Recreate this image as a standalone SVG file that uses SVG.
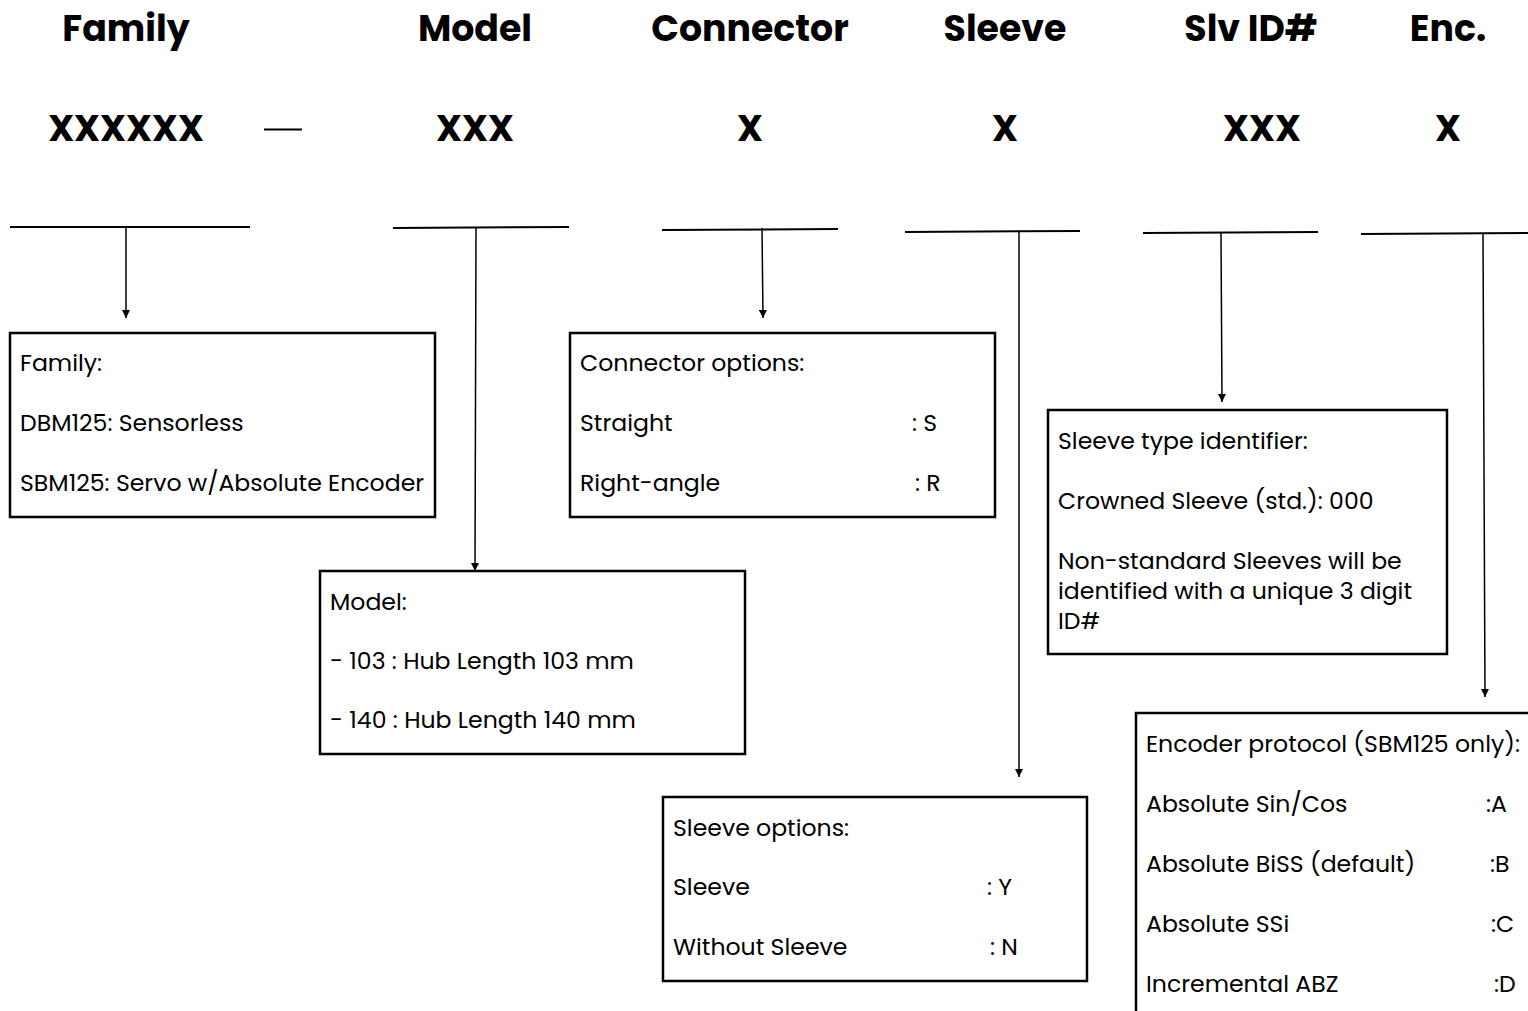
<svg xmlns="http://www.w3.org/2000/svg" width="1528" height="1011" viewBox="0 0 1528 1011">
<defs>
<marker id="arr" viewBox="0 0 10 10" refX="10" refY="5" markerWidth="8" markerHeight="8" markerUnits="userSpaceOnUse" orient="auto">
<path d="M0,0 L10,5 L0,10 z" fill="#000"/>
</marker>
<style>
.h{font-family:"Poppins","Open Sans","Liberation Sans",sans-serif;font-weight:700;font-size:36.3px;fill:#000;text-anchor:middle}
.x{font-family:"Poppins","Open Sans","Liberation Sans",sans-serif;font-weight:700;font-size:36.3px;fill:#000;text-anchor:middle}
.t{font-family:"Poppins","Open Sans","Liberation Sans",sans-serif;font-size:23.6px;fill:#000}
.box{fill:#fff;stroke:#000;stroke-width:2.5}
.br{stroke:#000;stroke-width:2;fill:none}
.v{stroke:#000;stroke-width:1.5;fill:none}
</style>
</defs>
<rect width="1528" height="1011" fill="#fff"/>
<g id="headers">
<text class="h" x="126" y="41">Family</text>
<text class="h" x="475" y="41">Model</text>
<text class="h" x="750" y="41">Connector</text>
<text class="h" x="1005" y="41">Sleeve</text>
<text class="h" x="1251" y="41">Slv ID#</text>
<text class="h" x="1448" y="41">Enc.</text>
<text class="x" x="126" y="141">XXXXXX</text>
<text class="x" x="475" y="141">XXX</text>
<text class="x" x="750" y="141">X</text>
<text class="x" x="1005" y="141">X</text>
<text class="x" x="1262" y="141">XXX</text>
<text class="x" x="1448" y="141">X</text>
<line class="br" x1="264" y1="129.5" x2="302" y2="129.5"/>
</g>
<g id="connectors">
<line class="br" x1="10" y1="227" x2="250" y2="227"/>
<line class="v" x1="126" y1="227" x2="126" y2="318" marker-end="url(#arr)"/>
<line class="br" x1="393" y1="228" x2="569" y2="227"/>
<line class="v" x1="476" y1="228" x2="475" y2="571" marker-end="url(#arr)"/>
<line class="br" x1="662" y1="230" x2="838" y2="229"/>
<line class="v" x1="762" y1="228" x2="763" y2="318" marker-end="url(#arr)"/>
<line class="br" x1="905" y1="232" x2="1080" y2="231"/>
<line class="v" x1="1019" y1="232" x2="1019" y2="777" marker-end="url(#arr)"/>
<line class="br" x1="1143" y1="233" x2="1318" y2="232"/>
<line class="v" x1="1221" y1="233" x2="1222" y2="402" marker-end="url(#arr)"/>
<line class="br" x1="1361" y1="234" x2="1528" y2="233"/>
<line class="v" x1="1483" y1="234" x2="1485" y2="697" marker-end="url(#arr)"/>
</g>
<g id="family">
<rect class="box" x="10" y="333" width="425" height="184"/>
<text class="t" x="20" y="371">Family:</text>
<text class="t" x="20" y="431">DBM125: Sensorless</text>
<text class="t" x="20" y="491">SBM125: Servo w/Absolute Encoder</text>
</g>
<g id="connector">
<rect class="box" x="570" y="333" width="425" height="184"/>
<text class="t" x="580" y="371">Connector options:</text>
<text class="t" x="580" y="431">Straight</text>
<text class="t" x="912" y="431">: S</text>
<text class="t" x="580" y="491">Right-angle</text>
<text class="t" x="915" y="491">: R</text>
</g>
<g id="model">
<rect class="box" x="320" y="571" width="425" height="183"/>
<text class="t" x="330" y="610">Model:</text>
<text class="t" x="330" y="669">- 103 : Hub Length 103 mm</text>
<text class="t" x="330" y="728">- 140 : Hub Length 140 mm</text>
</g>
<g id="slvid">
<rect class="box" x="1048" y="410" width="399" height="244"/>
<text class="t" x="1058" y="449">Sleeve type identifier:</text>
<text class="t" x="1058" y="509">Crowned Sleeve (std.): 000</text>
<text class="t" x="1058" y="569">Non-standard Sleeves will be</text>
<text class="t" x="1058" y="599">identified with a unique 3 digit</text>
<text class="t" x="1058" y="629">ID#</text>
</g>
<g id="sleeve">
<rect class="box" x="663" y="797" width="424" height="184"/>
<text class="t" x="673" y="836">Sleeve options:</text>
<text class="t" x="673" y="895">Sleeve</text>
<text class="t" x="987" y="895">: Y</text>
<text class="t" x="673" y="955">Without Sleeve</text>
<text class="t" x="990" y="955">: N</text>
</g>
<g id="encoder">
<rect class="box" x="1136" y="713" width="420" height="320"/>
<text class="t" x="1146" y="752">Encoder protocol (SBM125 only):</text>
<text class="t" x="1146" y="812">Absolute Sin/Cos</text>
<text class="t" x="1486" y="812">:A</text>
<text class="t" x="1146" y="872">Absolute BiSS (default)</text>
<text class="t" x="1490" y="872">:B</text>
<text class="t" x="1146" y="932">Absolute SSi</text>
<text class="t" x="1491" y="932">:C</text>
<text class="t" x="1146" y="992">Incremental ABZ</text>
<text class="t" x="1494" y="992">:D</text>
</g>
</svg>
